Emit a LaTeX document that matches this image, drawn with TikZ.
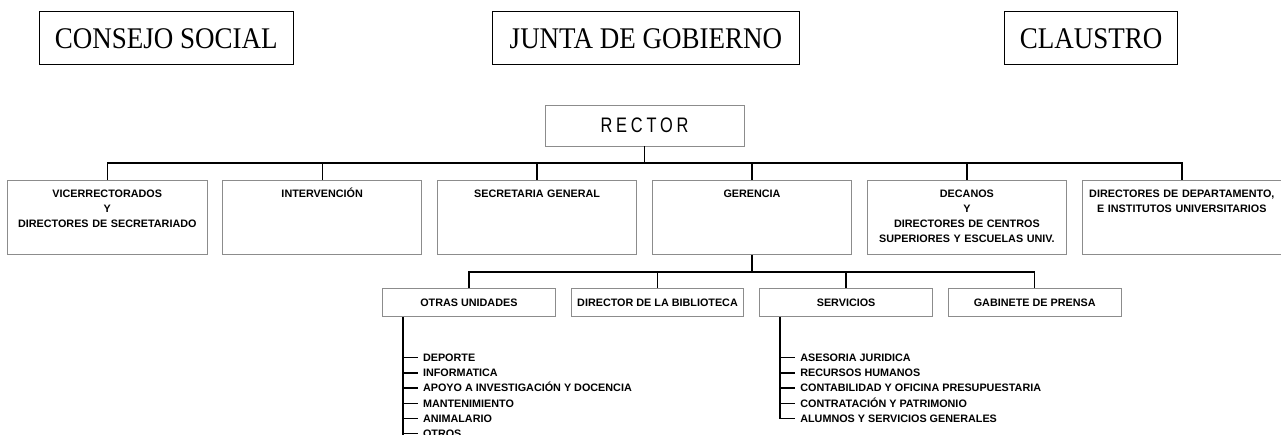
\documentclass[tikz,border=0pt]{standalone}
\usepackage{fontspec}
\setmainfont{Liberation Sans}
\newfontfamily\boardfont[FakeStretch=0.9]{Liberation Serif}
\newfontfamily\rectorfont[FakeStretch=0.78,LetterSpace=18]{Liberation Sans}
\newcommand{\unitfont}{\bfseries\fontsize{10.8}{15.2}\selectfont}
\usetikzlibrary{calc}
\definecolor{boxgray}{HTML}{8C8C8C}
\tikzset{
  board/.style ={draw, line width=1.1pt, minimum height=53.3pt, inner sep=0pt, text height=19.9pt, text depth=0pt, font=\boardfont\fontsize{30}{30}\selectfont},
  head/.style ={draw=boxgray, line width=0.9pt, minimum width=199pt, minimum height=41pt, inner sep=0pt, text height=15pt, text depth=0pt, font=\rectorfont\fontsize{21}{21}\selectfont},
  unit/.style ={draw=boxgray, line width=0.9pt, anchor=north, text width=199.4pt, align=center, inner xsep=0pt, inner ysep=7.7pt, text height=9pt, text depth=49.9pt, font=\unitfont},
  sub/.style ={draw=boxgray, line width=0.9pt, minimum width=172.5pt, minimum height=28.4pt, inner sep=0pt, text height=7.8pt, text depth=0pt, font=\unitfont},
  item/.style ={anchor=west, inner xsep=5pt, inner ysep=0pt, text height=7.7pt, text depth=0pt, font=\unitfont},
  link/.style ={draw, line width=1.4pt}
}

\begin{document}
\begin{tikzpicture}[x=1pt,y=-1pt]
	\useasboundingbox (0,0) rectangle (1281,435);
	\node[board, minimum width=254pt] (consejo) at (166.3,38.3) {CONSEJO SOCIAL};
	\node[board, minimum width=306.3pt] (junta) at (645.9,38.3) {JUNTA DE GOBIERNO};
	\node[board, minimum width=173.4pt] (claustro) at (1091,38.3) {CLAUSTRO};

	\node[head] (rector) at (644.5,125.5) {RECTOR};
	\foreach \n/\t [count=\i from 0] in {vice/{VICERRECTORADOS\\Y\\DIRECTORES DE SECRETARIADO}, interv/INTERVENCIÓN, secr/SECRETARIA GENERAL, ger/GERENCIA, dec/{DECANOS\\Y\\DIRECTORES DE CENTROS\\SUPERIORES Y ESCUELAS UNIV.}, dir/{DIRECTORES DE DEPARTAMENTO,\\E INSTITUTOS UNIVERSITARIOS}}
		\node[unit] (\n) at (107.3+214.9*\i,180) {\t};
	\coordinate (bus) at ([yshift=-16.7pt]rector.south);
	\foreach \n in {vice,interv,secr,ger,dec,dir}
		\draw[link] (rector.south) -- (bus) -| (\n.north);

	\foreach \n/\t [count=\i from 0] in {otras/OTRAS UNIDADES, biblio/DIRECTOR DE LA BIBLIOTECA, serv/SERVICIOS, prensa/GABINETE DE PRENSA}
		\node[sub] (\n) at (468.9+188.6*\i,302.5) {\t};
	\coordinate (subbus) at ([yshift=-16.8pt]ger.south);
	\foreach \n in {otras,biblio,serv,prensa}
		\draw[link] (ger.south) -- (subbus) -| (\n.north);

	% lists under the units
	\coordinate (otrastop) at ([xshift=20.6pt]otras.south west);
	\coordinate (otrasend) at ($(otrastop)+(0,125)$);
	\foreach \t [count=\i] in {DEPORTE, INFORMATICA, APOYO A INVESTIGACIÓN Y DOCENCIA, MANTENIMIENTO, ANIMALARIO, OTROS}
		\node[item] (o\i) at ($(otrastop)+(15,40.5+15.2*\i-15.2)$) {\t};
	\draw[link] (otrastop) -- (otrasend);
	\foreach \i in {1,...,6}
		\draw[link] (otrastop |- o\i.west) -- (o\i.west);

	\coordinate (servtop) at ([xshift=20.7pt]serv.south west);
	\foreach \t [count=\i] in {ASESORIA JURIDICA, RECURSOS HUMANOS, CONTABILIDAD Y OFICINA PRESUPUESTARIA, CONTRATACIÓN Y PATRIMONIO, ALUMNOS Y SERVICIOS GENERALES}
		\node[item] (s\i) at ($(servtop)+(15,40.5+15.2*\i-15.2)$) {\t};
	\draw[link] (servtop) |- (s5.west);
	\foreach \i in {1,...,4}
		\draw[link] (servtop |- s\i.west) -- (s\i.west);

\end{tikzpicture}
\end{document}
